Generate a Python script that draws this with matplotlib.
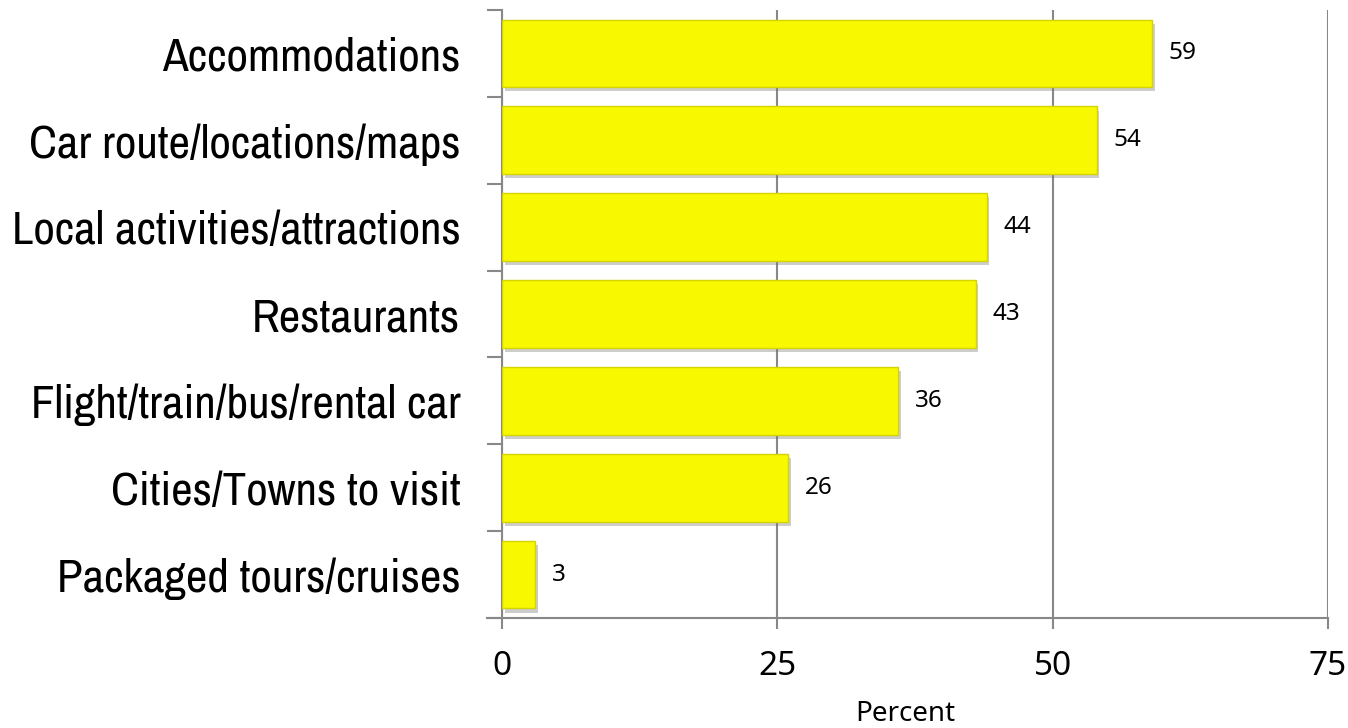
import matplotlib
matplotlib.use("Agg")
import matplotlib.pyplot as plt
import matplotlib.patheffects as pe
from matplotlib import font_manager as fm

categories = ["Accommodations", "Car route/locations/maps", "Local activities/attractions",
              "Restaurants", "Flight/train/bus/rental car", "Cities/Towns to visit",
              "Packaged tours/cruises"]
values = [59, 54, 44, 43, 36, 26, 3]
xticks = [0, 25, 50, 75]


def pick_narrow_font():
    fl = fm.fontManager.ttflist
    def regular(f):
        return f.style == "normal" and f.weight in (400, "normal", "regular")
    for f in fl:
        if "Narrow" in f.name and regular(f):
            return fm.FontProperties(fname=f.fname)
    for name in ("DejaVu Sans", "Liberation Sans", "Noto Sans", "Roboto", "Open Sans"):
        for f in fl:
            if f.name == name and str(f.stretch) in ("condensed", "semi-condensed") and regular(f):
                return fm.FontProperties(fname=f.fname)
    return fm.FontProperties(family="Liberation Sans")


fig = plt.figure(figsize=(13.48, 7.28), dpi=100)
ax = fig.add_axes([502/1348, 1 - 618/728, 826/1348, 608/728])

n = len(categories)
ypos = list(range(n))
bars = ax.barh(ypos, values, height=0.78, color="#F8F800", edgecolor="#D4D400",
               linewidth=1.0, zorder=3)
for b in bars:
    b.set_path_effects([pe.SimplePatchShadow(offset=(2, -3), shadow_rgbFace="#707070", alpha=0.35),
                        pe.Normal()])

ax.set_xlim(0, 75)
ax.set_ylim(n - 0.5, -0.5)
ax.set_xticks(xticks)
ax.set_xticklabels([str(t) for t in xticks], fontfamily="Noto Sans", fontsize=24)
ax.set_yticks(ypos)

fp = pick_narrow_font()
fp.set_size(35)
labels = ax.set_yticklabels(categories, fontproperties=fp)
ax.tick_params(axis="y", length=0, pad=30)
fig.canvas.draw()
r = fig.canvas.get_renderer()
wmax = max(t.get_window_extent(r).width for t in labels)
size = min(35, 35 * 448 / wmax)
for t in labels:
    t.set_fontsize(size)

ax.set_yticks([i - 0.5 for i in range(n + 1)], minor=True)
ax.tick_params(axis="y", which="minor", length=11, width=1.5, color="#888888", direction="out")
ax.tick_params(axis="x", length=8, width=1.5, color="#888888", direction="out", pad=15)

ax.grid(axis="x", color="#888888", linewidth=1.5, zorder=0)
for s in ["top", "right"]:
    ax.spines[s].set_visible(False)
for s in ["left", "bottom"]:
    ax.spines[s].set_color("#888888")
    ax.spines[s].set_linewidth(1.5)
ax.plot([-1.35, 0], [n - 0.5, n - 0.5], color="#888888", linewidth=1.5, clip_on=False, zorder=4)

for y, v in zip(ypos, values):
    ax.text(v + 1.5, y, str(v), va="center", ha="left", fontfamily="Noto Sans", fontsize=17.5, zorder=5)

ax.set_xlabel("Percent", fontfamily="Noto Sans", fontsize=20, x=403/826, ha="center", labelpad=12)

fig.savefig("out.png", dpi=100)
